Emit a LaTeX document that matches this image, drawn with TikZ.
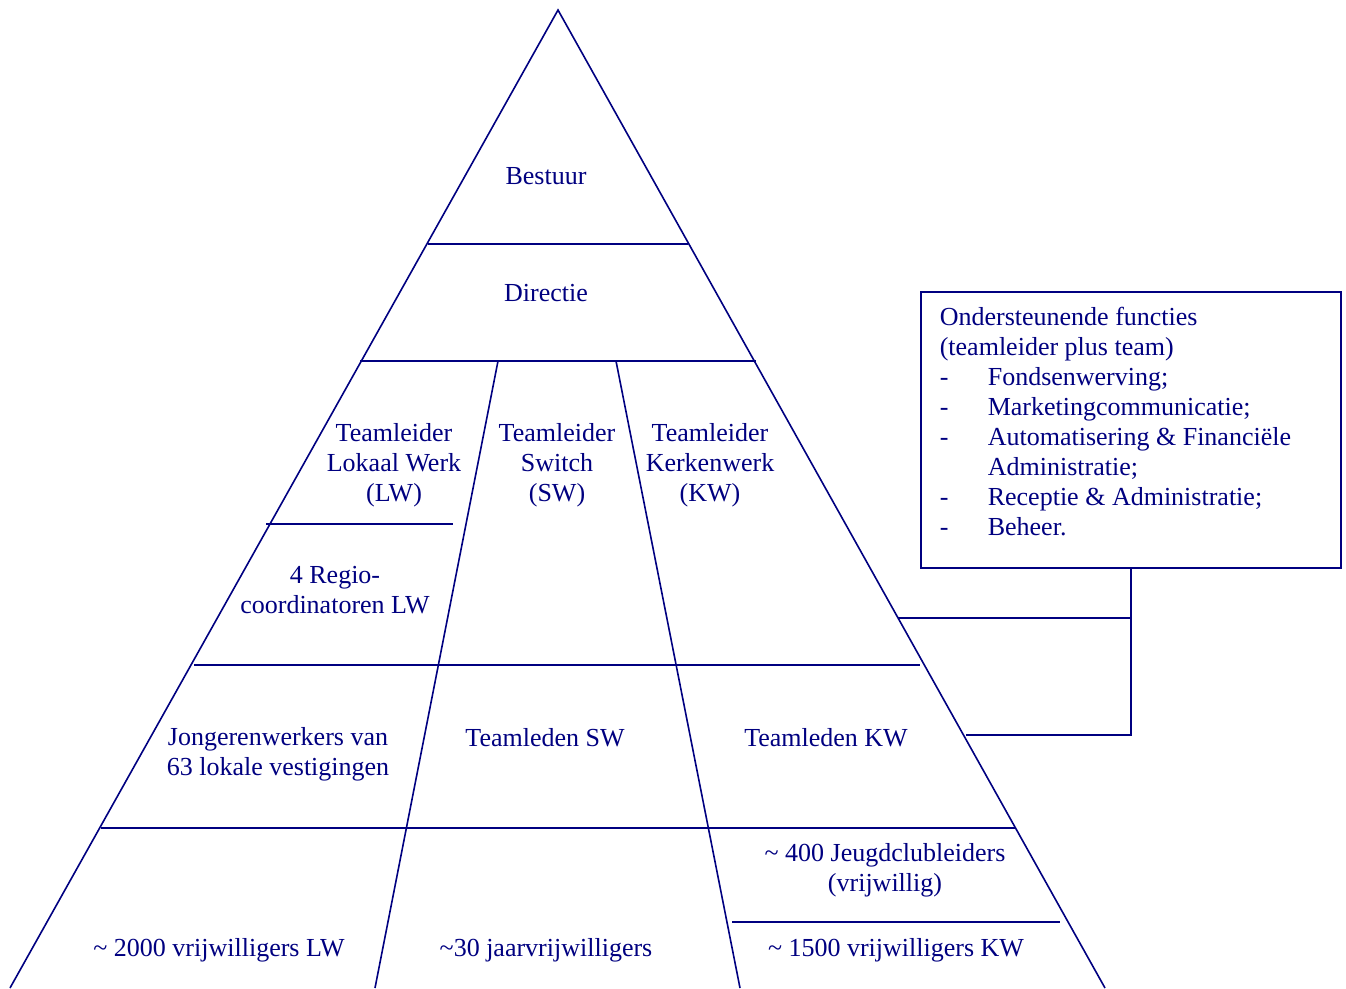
\documentclass[tikz,border=0pt]{standalone}
\usepackage{fontspec}
\setmainfont{Liberation Serif}
\definecolor{navy}{RGB}{0,0,128}

\begin{document}
\begin{tikzpicture}[x=1pt,y=-1pt,line width=1.6pt,color=navy,
  lbl/.style={align=center,inner sep=0pt,font=\fontsize{26}{30}\selectfont},
  listtext/.style={align=left,inner sep=0pt,anchor=north west,font=\fontsize{26}{30}\selectfont},
  supportbox/.style={draw,inner sep=0pt,anchor=north west,minimum width=420pt,minimum height=276pt}]
\useasboundingbox (0,0) rectangle (1346,988);
% pyramid outline
\coordinate (apex) at (558,10);
\coordinate (baseL) at (10,988);
\coordinate (baseR) at (1105,988);
\draw (baseL) -- (apex) -- (baseR);
% layers
\draw (428,244) -- (688,244);
\draw (360,361) -- (756,361);
\draw (266,524) -- (453,524);
\draw (194,665) -- (920,665);
\draw (101,828) -- (1015,828);
\draw (732,922) -- (1060,922);
% columns
\draw (498,361) -- (375,988);
\draw (616,361) -- (740,988);
% labels
\node[lbl] (bestuur) at (546,176) {Bestuur};
\node[lbl] (directie) at (546,293) {Directie};
\node[lbl] (tllw) at (394,465) {Teamleider\\Lokaal Werk\\(LW)};
\node[lbl] (tlsw) at (557,465) {Teamleider\\Switch\\(SW)};
\node[lbl] (tlkw) at (710,465) {Teamleider\\Kerkenwerk\\(KW)};
\node[lbl] (regio) at (335,590) {4 Regio-\\coordinatoren LW};
\node[lbl] (jongeren) at (278,754) {Jongerenwerkers van\\63 lokale vestigingen};
\node[lbl] (tmsw) at (545,738) {Teamleden SW};
\node[lbl] (tmkw) at (826,738) {Teamleden KW};
\node[lbl] (jeugd) at (885,870) {\textasciitilde{} 400 Jeugdclubleiders\\(vrijwillig)};
\node[lbl] (vrijlw) at (219,950) {\textasciitilde{} 2000 vrijwilligers LW};
\node[lbl] (jaar) at (546,950) {\textasciitilde30 jaarvrijwilligers};
\node[lbl] (vrijkw) at (896,950) {\textasciitilde{} 1500 vrijwilligers KW};
% support functions
\node[supportbox] (support) at (920,291) {};
\node[listtext] (supporttext) at (939,306) {Ondersteunende functies\\
  (teamleider plus team)\\
  \makebox[48pt][l]{-}Fondsenwerving;\\
  \makebox[48pt][l]{-}Marketingcommunicatie;\\
  \makebox[48pt][l]{-}Automatisering \& Financiële\\
  \hspace*{48pt}Administratie;\\
  \makebox[48pt][l]{-}Receptie \& Administratie;\\
  \makebox[48pt][l]{-}Beheer.};
\coordinate (sideA) at (898,618);
\coordinate (sideB) at (966,735);
\draw (support.south) |- (sideB);
\draw (sideA) -- (sideA -| support.south);
\end{tikzpicture}
\end{document}
